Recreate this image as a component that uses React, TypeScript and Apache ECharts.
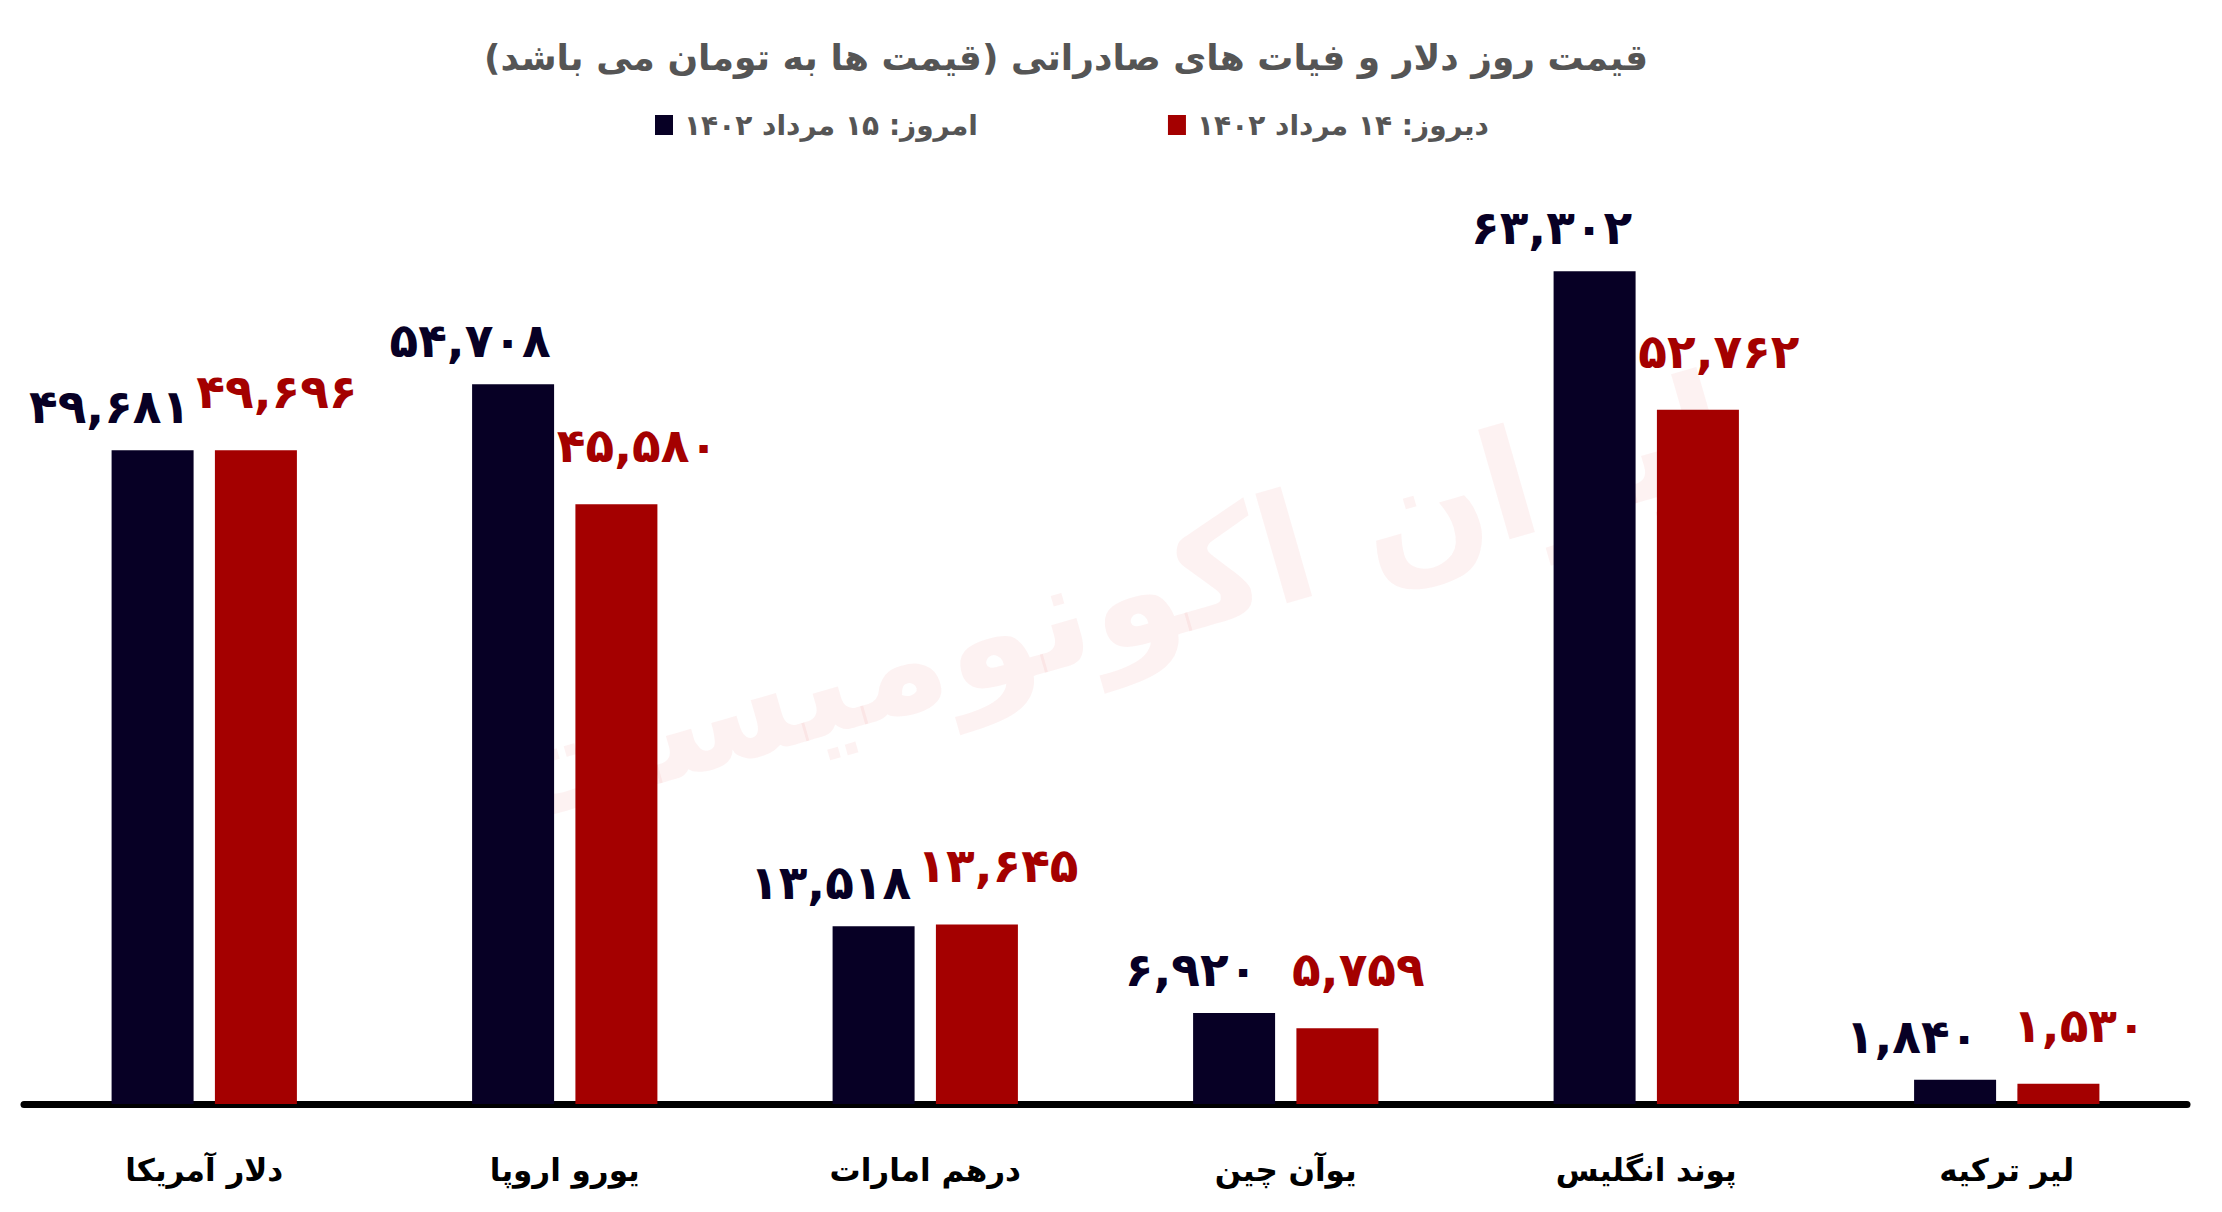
import React, { useEffect, useRef } from "react";
import * as echarts from "echarts";

const categories = ["دلار آمریکا", "یورو اروپا", "درهم امارات", "یوآن چین", "پوند انگلیس", "لیر ترکیه"];
const todayValues = [49681, 54708, 13518, 6920, 63302, 1840];
const yesterdayValues = [49696, 45580, 13645, 5759, 52762, 1530];
const seriesNames = ["امروز: ۱۵ مرداد ۱۴۰۲", "دیروز: ۱۴ مرداد ۱۴۰۲"];
const titleText = "قیمت روز دلار و فیات های صادراتی (قیمت ها به تومان می باشد)";
const watermarkText = "ایران اکونومیست";

const DARK = "#070025";
const RED = "#a40000";
const FONT = "DejaVu Sans";
const RLM = "\u200F";

const faDigits = "۰۱۲۳۴۵۶۷۸۹";
const toFa = (n: number) =>
  n.toLocaleString("en-US").replace(/[0-9]/g, (d) => faDigits[Number(d)]);

export default function App() {
  const ref = useRef<HTMLDivElement>(null);
  useEffect(() => {
    if (!ref.current) return;
    const chart = echarts.init(ref.current, null, { renderer: "svg" });
    chart.setOption({
      animation: false,
      backgroundColor: "#ffffff",
      textStyle: { fontFamily: FONT },
      graphic: [
        {
          type: "text",
          x: 1066,
          y: 57,
          z: 10,
          style: {
            text: RLM + titleText + RLM,
            fill: "#555555",
            font: `bold 36px "${FONT}"`,
            textAlign: "center",
            textVerticalAlign: "middle",
          },
        },
        {
          type: "text",
          x: 1110,
          y: 600,
          rotation: 0.28,
          z: -10,
          silent: true,
          style: {
            text: RLM + watermarkText,
            fill: "rgba(235, 90, 90, 0.08)",
            font: `bold 150px "${FONT}"`,
            textAlign: "center",
            textVerticalAlign: "middle",
          },
        },
      ],
      legend: {
        left: 650,
        top: 106,
        itemWidth: 18,
        itemHeight: 20,
        itemGap: 190,
        icon: "rect",
        textStyle: {
          fontFamily: FONT,
          fontWeight: "bold",
          fontSize: 28,
          color: "#555555",
          padding: [0, 0, 0, 6],
        },
        data: [seriesNames[0], seriesNames[1]],
      },
      grid: { left: 24, right: 35, top: 183, bottom: 108, containLabel: false },
      xAxis: {
        type: "category",
        data: categories,
        axisLine: { show: true, lineStyle: { color: "#000000", width: 7 } },
        axisTick: { show: false },
        axisLabel: {
          fontFamily: FONT,
          fontWeight: "bold",
          fontSize: 31,
          color: "#000000",
          margin: 50,
        },
      },
      yAxis: {
        type: "value",
        min: 0,
        max: 70000,
        show: false,
        splitLine: { show: false },
      },
      series: [
        {
          name: seriesNames[0],
          type: "bar",
          data: todayValues,
          barWidth: 82,
          barGap: "26%",
          itemStyle: { color: DARK },
          label: {
            show: true,
            position: "top",
            distance: 5,
            offset: [-43, -15],
            color: DARK,
            fontFamily: FONT,
            fontWeight: "bold",
            fontSize: 47,
            formatter: (p: any) => toFa(p.value),
          },
        },
        {
          name: seriesNames[1],
          type: "bar",
          data: yesterdayValues,
          barWidth: 82,
          barGap: "26%",
          itemStyle: { color: RED },
          label: {
            show: true,
            position: "top",
            distance: 5,
            offset: [21, -30],
            color: RED,
            fontFamily: FONT,
            fontWeight: "bold",
            fontSize: 47,
            formatter: (p: any) => toFa(p.value),
          },
        },
      ],
    });
    return () => chart.dispose();
  }, []);
  return (
    <div
      ref={ref}
      style={{ position: "fixed", left: 0, top: 0, width: 2222, height: 1212 }}
    />
  );
}
